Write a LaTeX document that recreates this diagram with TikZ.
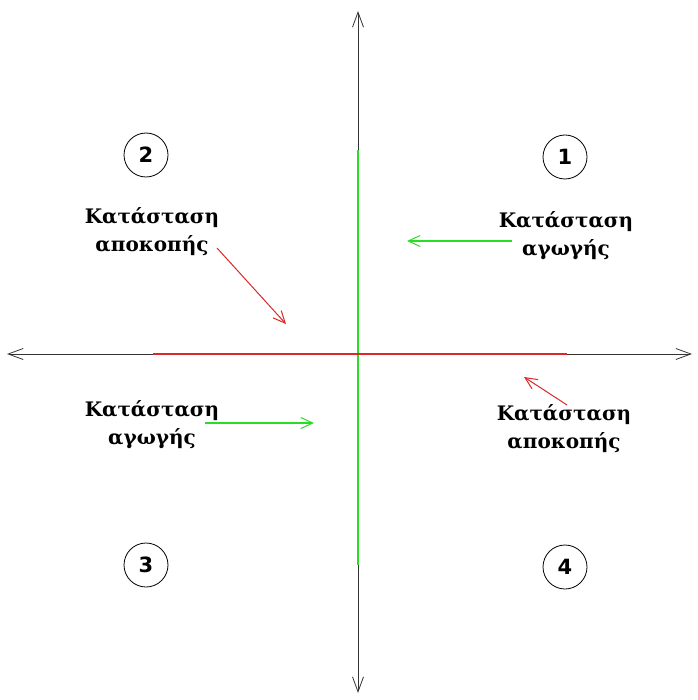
\documentclass[tikz,border=0pt]{standalone}
\usepackage{fontspec}
\setmainfont{DejaVu Serif}
\newfontfamily\numfont{DejaVu Sans}
\usetikzlibrary{arrows.meta}
\definecolor{gr}{RGB}{40,220,40}
\definecolor{rd}{RGB}{220,40,40}
\begin{document}
\begin{tikzpicture}[x=1pt,y=-1pt,
  axis/.style={draw=black!80,line width=0.9pt,-{Straight Barb[length=15pt,width=11pt,line width=0.8pt]}},
  num/.style={draw,circle,minimum size=44pt,inner sep=0pt,line width=0.8pt,font=\numfont\bfseries\fontsize{21}{21}\selectfont},
  lbl/.style={align=center,font=\bfseries\fontsize{20}{28}\selectfont,inner sep=0pt},
  garr/.style={draw=gr,line width=1.3pt,-{Straight Barb[length=12pt,width=11pt,line width=1pt]}},
  rarr/.style={draw=rd,line width=1pt,-{Straight Barb[length=12pt,width=11pt,line width=1pt]}}]
\useasboundingbox (0,0) rectangle (697,700);
\coordinate (o) at (358,354);
\coordinate (t) at (358,11);
\coordinate (b) at (358,693);
\coordinate (l) at (7,354);
\coordinate (r) at (692,354);
\draw[axis] (o) -- (t);
\draw[axis] (o) -- (b);
\draw[axis] (o) -- (l);
\draw[axis] (o) -- (r);
\coordinate (gt) at (358,150);
\coordinate (gb) at (358,565);
\coordinate (rl) at (153,354);
\coordinate (rr) at (567,354);
\draw[gr,line width=2pt] (gt) -- (gb);
\draw[rd,line width=2pt] (rl) -- (rr);
\node[num] (n1) at (565,157) {1};
\node[num] (n2) at (146,155) {2};
\node[num] (n3) at (146,565) {3};
\node[num] (n4) at (565,567) {4};
\node[lbl] (l1) at (566,236) {Κατάσταση\\αγωγής};
\node[lbl] (l2) at (152,232) {Κατάσταση\\αποκοπής};
\node[lbl] (l3) at (152,425) {Κατάσταση\\αγωγής};
\node[lbl] (l4) at (564,429) {Κατάσταση\\αποκοπής};
\coordinate (a1s) at (512,241);
\coordinate (a1e) at (407,241);
\coordinate (a2s) at (217,248);
\coordinate (a2e) at (286,324);
\coordinate (a3s) at (205,423);
\coordinate (a3e) at (314,423);
\coordinate (a4s) at (567,405);
\coordinate (a4e) at (524,377);
\draw[garr] (a1s) -- (a1e);
\draw[rarr] (a2s) -- (a2e);
\draw[garr] (a3s) -- (a3e);
\draw[rarr] (a4s) -- (a4e);
\end{tikzpicture}
\end{document}
